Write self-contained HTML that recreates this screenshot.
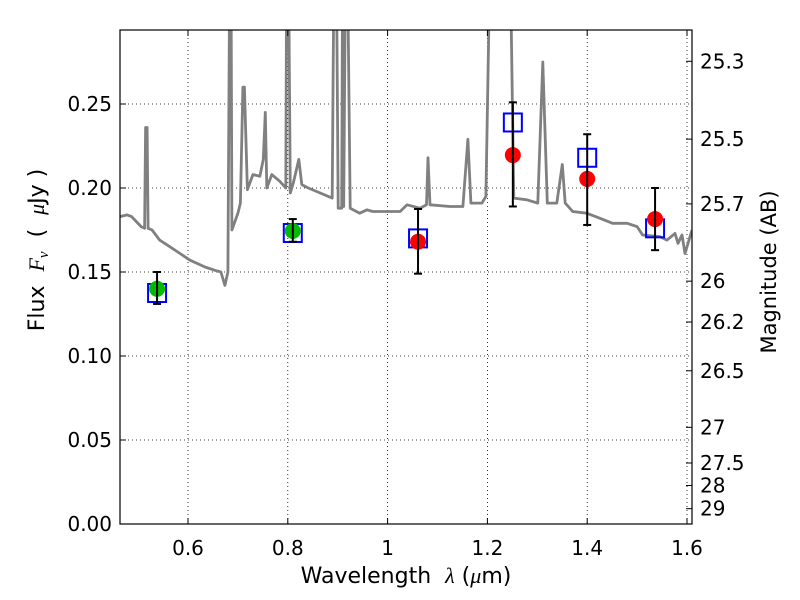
<!DOCTYPE html>
<html><head><meta charset="utf-8"><style>
body{margin:0;background:#fff;}
svg{display:block;font-family:"DejaVu Sans","Liberation Sans",sans-serif;}
</style></head><body>
<svg id="chart" width="800" height="600" viewBox="0 0 800 600"></svg>
<script>
// ---- data ----
const specLam = [0.464,0.478,0.487,0.506,0.513,0.515,0.518,0.520,0.528,0.543,0.564,0.584,0.604,0.634,0.654,0.666,0.674,0.680,0.684,0.686,0.688,0.700,0.705,0.710,0.713,0.719,0.730,0.744,0.751,0.755,0.758,0.768,0.784,0.796,0.798,0.801,0.805,0.811,0.822,0.828,0.841,0.865,0.889,0.893,0.897,0.901,0.908,0.910,0.912,0.916,0.919,0.925,0.944,0.959,0.970,0.998,1.025,1.039,1.065,1.078,1.081,1.085,1.125,1.151,1.161,1.167,1.189,1.197,1.206,1.245,1.253,1.279,1.301,1.311,1.320,1.339,1.350,1.356,1.371,1.399,1.425,1.451,1.480,1.500,1.511,1.546,1.560,1.576,1.582,1.590,1.596,1.610];
const specFlux = [0.183,0.184,0.183,0.177,0.176,0.236,0.236,0.176,0.175,0.169,0.165,0.161,0.157,0.153,0.151,0.150,0.142,0.150,0.35,0.35,0.175,0.185,0.191,0.260,0.260,0.199,0.208,0.207,0.217,0.245,0.200,0.208,0.204,0.200,0.35,0.35,0.197,0.203,0.217,0.202,0.200,0.197,0.194,0.35,0.35,0.188,0.188,0.35,0.189,0.35,0.35,0.188,0.185,0.187,0.186,0.186,0.186,0.190,0.188,0.190,0.218,0.190,0.189,0.189,0.229,0.191,0.191,0.195,0.35,0.35,0.194,0.193,0.191,0.275,0.191,0.191,0.214,0.191,0.186,0.185,0.182,0.179,0.179,0.177,0.172,0.171,0.169,0.173,0.167,0.172,0.161,0.175];
const greenLam = [0.538,0.810];
const greenFlux = [0.140,0.1744];
const greenErrHi = [0.150,0.1815];
const greenErrLo = [0.131,0.168];
const redLam = [1.061,1.251,1.400,1.536];
const redFlux = [0.168,0.2196,0.2054,0.1815];
const redErrHi = [0.1875,0.251,0.232,0.200];
const redErrLo = [0.149,0.189,0.178,0.163];
const modelLam = [0.538,0.810,1.061,1.251,1.400,1.536];
const modelFlux = [0.1375,0.1732,0.170,0.239,0.218,0.176];
const xTicks = [0.6,0.8,1.0,1.2,1.4,1.6];
const xTickLabels = ["0.6","0.8","1","1.2","1.4","1.6"];
const yTicks = [0,0.05,0.10,0.15,0.20,0.25];
const yTickLabels = ["0.00","0.05","0.10","0.15","0.20","0.25"];
const magTicks = [25.3,25.5,25.7,26,26.2,26.5,27,27.5,28,29];
const magTickLabels = ["25.3","25.5","25.7","26","26.2","26.5","27","27.5","28","29"];

// ---- axes ----
const L=120,R=692,T=30,B=524;
const X = v => 188 + (v-0.6)*499;
const Y = v => 524 - v*1680;
const magToFlux = m => Math.pow(10,(23.9-m)/2.5);
const NS="http://www.w3.org/2000/svg";
const svg=document.getElementById('chart');
function mk(tag,attrs,parent){const e=document.createElementNS(NS,tag);for(const k in attrs)e.setAttribute(k,attrs[k]);(parent||svg).appendChild(e);return e;}

const defs=mk('defs',{});
const cp=mk('clipPath',{id:'clip'},defs);
mk('rect',{x:L,y:T,width:R-L,height:B-T},cp);

const grid=mk('g',{});


xTicks.forEach(v=>{mk('line',{x1:X(v),x2:X(v),y1:T,y2:B,stroke:'#000','stroke-width':0.8,'stroke-dasharray':'1,3'},grid);});
yTicks.forEach(v=>{mk('line',{x1:L,x2:R,y1:Y(v),y2:Y(v),stroke:'#000','stroke-width':0.8,'stroke-dasharray':'1,3'},grid);});

const plot=mk('g',{'clip-path':'url(#clip)'});
let d='';
specLam.forEach((l,i)=>{d+=(i?'L':'M')+X(l).toFixed(1)+','+Y(specFlux[i]).toFixed(1);});
const sp=mk('path',{d:d,fill:'none',stroke:'#808080','stroke-width':2.8,'stroke-linejoin':'round'},plot);



modelLam.forEach((l,i)=>{
  const r=mk('rect',{x:X(l)-9,y:Y(modelFlux[i])-9,width:18,height:18,fill:'none',stroke:'#0000ff','stroke-width':2},plot);
  
  
});
function drawPts(lams,fl,hi,lo,color,name){
  lams.forEach((l,i)=>{
    const x=X(l);
    const g=mk('g',{},plot);
    
    
    mk('circle',{cx:x,cy:Y(fl[i]),r:8,fill:color},g);
    mk('line',{x1:x,x2:x,y1:Y(hi[i]),y2:Y(lo[i]),stroke:'#000','stroke-width':2},g);
    mk('line',{x1:x-4,x2:x+4,y1:Y(hi[i]),y2:Y(hi[i]),stroke:'#000','stroke-width':2},g);
    mk('line',{x1:x-4,x2:x+4,y1:Y(lo[i]),y2:Y(lo[i]),stroke:'#000','stroke-width':2},g);
  });
}
drawPts(greenLam,greenFlux,greenErrHi,greenErrLo,'#00bb00','optical-photometry-point');
drawPts(redLam,redFlux,redErrHi,redErrLo,'#ff0000','nir-photometry-point');

const fr=mk('rect',{x:L,y:T,width:R-L,height:B-T,fill:'none',stroke:'#000','stroke-width':1.2});



xTicks.forEach((v,i)=>{
  mk('line',{x1:X(v),x2:X(v),y1:B,y2:B-6,stroke:'#000'});
  mk('line',{x1:X(v),x2:X(v),y1:T,y2:T+6,stroke:'#000'});
  const t=mk('text',{x:X(v),y:B+31,'text-anchor':'middle','font-size':20});
  t.textContent=xTickLabels[i];
  
  
});
yTicks.forEach((v,i)=>{
  mk('line',{x1:L,x2:L+6,y1:Y(v),y2:Y(v),stroke:'#000'});
  const t=mk('text',{x:L-8,y:Y(v)+7,'text-anchor':'end','font-size':20});
  t.textContent=yTickLabels[i];
  
  
});
magTicks.forEach((m,i)=>{
  const y=Y(magToFlux(m));
  mk('line',{x1:R,x2:R-6,y1:y,y2:y,stroke:'#000'});
  const t=mk('text',{x:R+8,y:y+7,'font-size':20});
  t.textContent=magTickLabels[i];
  
  
});

const xt=mk('text',{x:406,y:583,'text-anchor':'middle','font-size':22,'xml:space':'preserve'});
xt.innerHTML='Wavelength\u00a0\u00a0<tspan font-family="Liberation Serif" font-style="italic">λ</tspan> (<tspan font-family="Liberation Serif" font-style="italic">μ</tspan>m)';


const yt=mk('text',{x:0,y:0,'text-anchor':'middle','font-size':22,transform:'translate(44,250) rotate(-90)'});
yt.innerHTML='Flux\u00a0\u00a0<tspan font-family="Liberation Serif" font-style="italic">F</tspan><tspan font-family="Liberation Serif" font-style="italic" font-size="15" dy="4">ν</tspan><tspan dy="-4">\u00a0\u00a0(\u00a0\u00a0</tspan><tspan font-family="Liberation Serif" font-style="italic">μ</tspan>Jy )';


const rt=mk('text',{x:0,y:0,'text-anchor':'middle','font-size':21,transform:'translate(776,272) rotate(-90)'});
rt.textContent='Magnitude (AB)';


</script>
</body></html>
